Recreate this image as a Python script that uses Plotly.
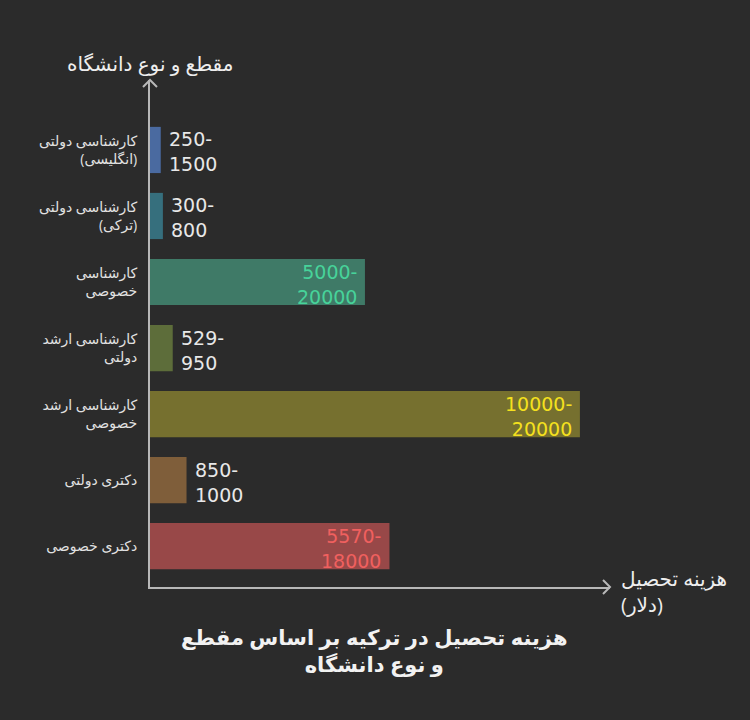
import plotly.graph_objects as go

# مقطع و نوع دانشگاه (top to bottom) and tuition range in dollars
levels = [
    "کارشناسی دولتی<br>(انگلیسی)",
    "کارشناسی دولتی<br>(ترکی)",
    "کارشناسی<br>خصوصی",
    "کارشناسی ارشد<br>دولتی",
    "کارشناسی ارشد<br>خصوصی",
    "دکتری دولتی",
    "دکتری خصوصی",
]
cost_min = [250, 300, 5000, 529, 10000, 850, 5570]
cost_max = [1500, 800, 20000, 950, 20000, 1000, 18000]

bar_colors = ["#4a6aa0", "#366f7d", "#3f7a67", "#5d6d3a", "#76702f", "#7f5e3a", "#984848"]
text_colors = ["#e8e8e8", "#e8e8e8", "#47d39a", "#e8e8e8", "#f5e11e", "#e8e8e8", "#f0605f"]

BG = "#2b2b2b"
AXIS = "#b8b8b8"
FONT = "Open Sans, DejaVu Sans, sans-serif"
NUM_FONT = "DejaVu Sans, sans-serif"

fig = go.Figure()
fig.add_trace(go.Bar(
    x=cost_min,
    y=levels,
    orientation="h",
    width=0.7,
    marker=dict(color=bar_colors, line=dict(width=0)),
    hoverinfo="skip",
))

# range labels: inside the bar when it is wide enough, else just past its end
for lo, hi, lvl, tc in zip(cost_min, cost_max, levels, text_colors):
    inside = lo > 2000
    fig.add_annotation(
        x=lo, y=lvl, xref="x", yref="y", yshift=-2,
        text=f"{lo}-<br>{hi}",
        showarrow=False,
        xanchor="right" if inside else "left",
        align="right" if inside else "left",
        xshift=-6 if inside else 6,
        font=dict(family=NUM_FONT, size=19, color=tc),
    )

# axis titles and chart title
fig.add_annotation(
    x=0, y=1, xref="paper", yref="paper", yshift=17,
    text="مقطع و نوع دانشگاه", showarrow=False,
    xanchor="center", yanchor="middle",
    font=dict(family=FONT, size=20, color="#eeeeee"),
)
fig.add_annotation(
    x=1, y=0, xref="paper", yref="paper", xshift=9, yshift=-4,
    text="هزینه تحصیل<br>(دلار)", showarrow=False,
    xanchor="left", yanchor="middle", align="left",
    font=dict(family=FONT, size=20, color="#eeeeee"),
)
fig.add_annotation(
    x=0.487, y=0, xref="paper", yref="paper", yshift=-63,
    text="<b>هزینه تحصیل در ترکیه بر اساس مقطع<br>و نوع دانشگاه</b>", showarrow=False,
    xanchor="center", yanchor="middle", align="center",
    font=dict(family=FONT, size=21, color="#f2f2f2"),
)

# arrow heads on the axes
fig.add_shape(type="path", xref="paper", yref="paper", xsizemode="pixel", ysizemode="pixel",
              xanchor=0, yanchor=1, path="M -7,-7 L 0,0 L 7,-7",
              line=dict(color=AXIS, width=2))
fig.add_shape(type="path", xref="paper", yref="paper", xsizemode="pixel", ysizemode="pixel",
              xanchor=1, yanchor=0, path="M -7,7 L 0,0 L -7,-7",
              line=dict(color=AXIS, width=2))

fig.update_xaxes(
    range=[0, 10700], showgrid=False, zeroline=False, showticklabels=False,
    showline=True, linecolor=AXIS, linewidth=2, ticks="",
)
fig.update_yaxes(
    categoryorder="array", categoryarray=levels[::-1],
    range=[-0.62, 7.06], showgrid=False, zeroline=False,
    showline=True, linecolor=AXIS, linewidth=2, ticks="",
    ticklabelstandoff=8,
    tickfont=dict(family=FONT, size=14, color="#e2e2e2"),
)

fig.update_layout(
    width=750, height=720,
    margin=dict(l=150, r=140, t=80, b=133),
    paper_bgcolor=BG, plot_bgcolor=BG,
    showlegend=False,
    font=dict(family=FONT, color="#e8e8e8"),
)

# page has a default 8px body margin; drop it so the chart fills the window
fig.write_html(
    "out.html",
    config={"displayModeBar": False},
    post_script="document.body.style.margin='0';document.body.style.background='#2b2b2b';",
)
